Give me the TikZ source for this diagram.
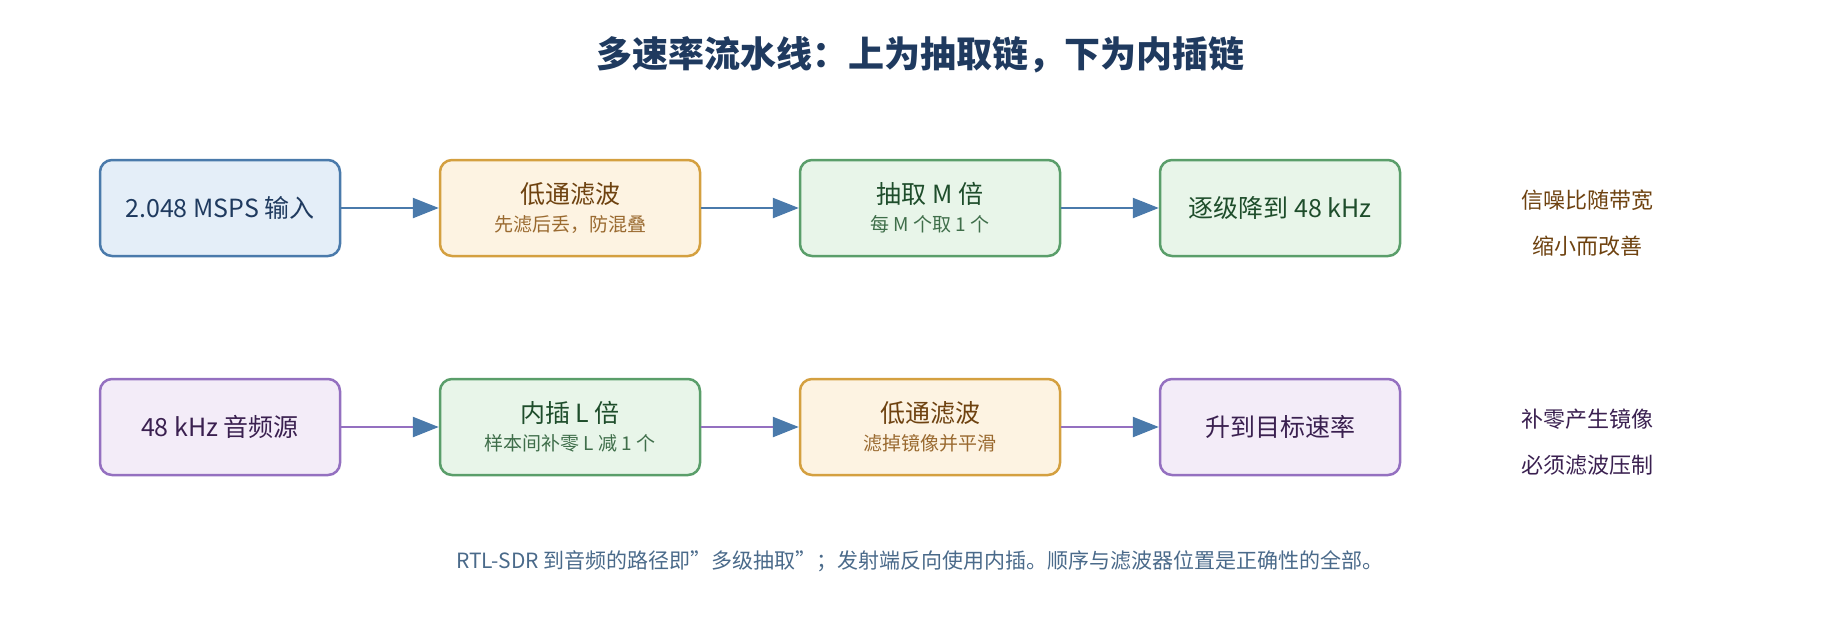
\documentclass[tikz,border=0pt]{standalone}
\usepackage{fontspec}
\setmainfont{Noto Sans CJK SC}
\usetikzlibrary{arrows.meta, positioning}
\definecolor{navy}{HTML}{1F3A5F}
\definecolor{bluedraw}{HTML}{4A7AAB}
\definecolor{bluefill}{HTML}{E4EEF8}
\definecolor{orgdraw}{HTML}{D4A040}
\definecolor{orgfill}{HTML}{FDF3E2}
\definecolor{orgtext}{HTML}{6E4210}
\definecolor{orgsub}{HTML}{9A6A30}
\definecolor{grndraw}{HTML}{5A9E6A}
\definecolor{grnfill}{HTML}{E8F5E9}
\definecolor{grntext}{HTML}{1E4D2B}
\definecolor{grnsub}{HTML}{3F6E4A}
\definecolor{purdraw}{HTML}{9470C0}
\definecolor{purfill}{HTML}{F3ECF8}
\definecolor{purtext}{HTML}{3A2050}
\definecolor{foot}{HTML}{4A6A8A}
\begin{document}
\begin{tikzpicture}[x=1pt, y=-1pt, >=Latex, every node/.style={font=\fontsize{25}{30}\selectfont}]
    % Define styles for blocks and links
    \tikzset{block/.style={draw, rounded corners=12pt, line width=2.5pt, minimum height=96pt, minimum width=260pt, align=center},
             inblock/.style={block, draw=bluedraw, fill=bluefill, text=navy, minimum width=240pt},
             filt/.style={block, draw=orgdraw, fill=orgfill, text=orgtext},
             rate/.style={block, draw=grndraw, fill=grnfill, text=grntext},
             srcblock/.style={block, draw=purdraw, fill=purfill, text=purtext, minimum width=240pt},
             link/.style={line width=2.5pt, draw=bluedraw, -{Triangle[length=26pt, width=20pt, fill=bluedraw, color=bluedraw]}},
             plink/.style={link, draw=purdraw},
             note/.style={align=center, font=\fontsize{22}{46}\selectfont}}
    \useasboundingbox (0,0) rectangle (1840,640);

    \node[text=navy, font=\bfseries\fontsize{36}{42}\selectfont] (title) at (920,55) {多速率流水线：上为抽取链，下为内插链};

    % Decimation chain
    \node[inblock] (in) at (220,208) {2.048 MSPS 输入};
    \node[filt, right of=in, node distance=350pt] (lpf1) {低通滤波\\[-2pt]{\color{orgsub}\fontsize{19}{23}\selectfont 先滤后丢，防混叠}};
    \node[rate, right of=lpf1, node distance=360pt] (dec) {抽取 M 倍\\[-2pt]{\color{grnsub}\fontsize{19}{23}\selectfont 每 M 个取 1 个}};
    \node[rate, right of=dec, node distance=350pt, minimum width=240pt] (out1) {逐级降到 48 kHz};
    \node[note, text=orgtext] (note1) at (1587,223) {信噪比随带宽\\缩小而改善};

    % Interpolation chain
    \node[srcblock] (src) at (220,427) {48 kHz 音频源};
    \node[rate, right of=src, node distance=350pt] (interp) {内插 L 倍\\[-2pt]{\color{grnsub}\fontsize{19}{23}\selectfont 样本间补零 L 减 1 个}};
    \node[filt, right of=interp, node distance=360pt] (lpf2) {低通滤波\\[-2pt]{\color{orgsub}\fontsize{19}{23}\selectfont 滤掉镜像并平滑}};
    \node[srcblock, right of=lpf2, node distance=350pt] (out2) {升到目标速率};
    \node[note, text=purtext] (note2) at (1587,442) {补零产生镜像\\必须滤波压制};

    % Draw edges
    \draw[link] (in) -- (lpf1);
    \draw[link] (lpf1) -- (dec);
    \draw[link] (dec) -- (out1);
    \draw[plink] (src) -- (interp);
    \draw[plink] (interp) -- (lpf2);
    \draw[plink] (lpf2) -- (out2);

    \node[text=foot, font=\fontsize{21}{25}\selectfont] (footer) at (920,561) {RTL-SDR 到音频的路径即\symbol{34}多级抽取\symbol{34}；发射端反向使用内插。顺序与滤波器位置是正确性的全部。};
\end{tikzpicture}
\end{document}
